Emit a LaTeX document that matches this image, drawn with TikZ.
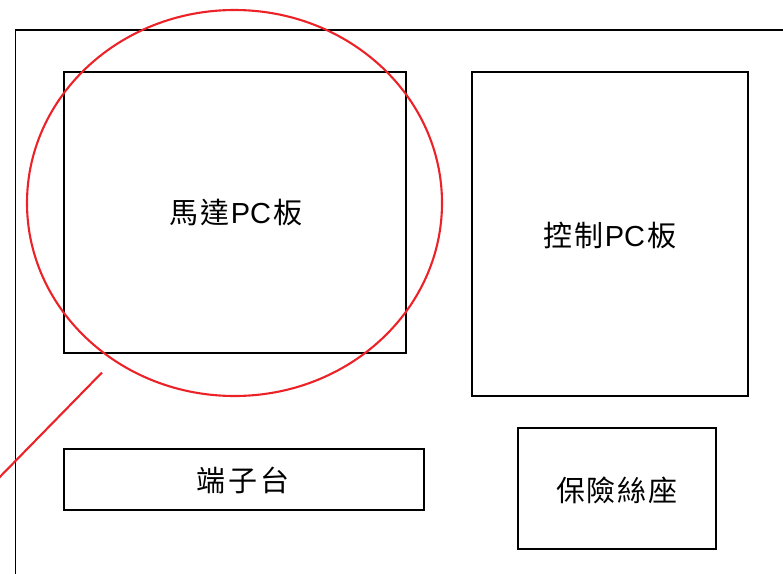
\documentclass[tikz,border=0pt]{standalone}
\usepackage{fontspec}
\setmainfont{Liberation Sans}
\newfontfamily\cjk{Noto Sans CJK TC}
\begin{document}
\begin{tikzpicture}[x=1pt,y=-1pt,
  box/.style={draw=black,line width=1.6pt,inner sep=0pt},
  lbl/.style={font=\fontsize{29}{34}\selectfont},
  redl/.style={draw={rgb,255:red,235;green,35;blue,40},line width=2.1pt}]
\useasboundingbox (0,0) rectangle (783,573);
\begin{scope}
\clip (0,0) rectangle (783,573);
\draw[line width=1.6pt] (15.5,600) -- (15.5,30) -- (800,30);
\node[box,minimum width=342pt,minimum height=281pt] (motor) at (235,212.5) {};
\node[box,minimum width=276pt,minimum height=324pt] (ctrl) at (610,234) {};
\node[box,minimum width=360pt,minimum height=61pt] (term) at (244,479.5) {};
\node[box,minimum width=198pt,minimum height=121pt] (fuse) at (617,488.5) {};
\node[lbl] (tm) at (236,212) {\cjk 馬\hspace{2pt}達\hspace{1pt}\rmfamily PC\hspace{2pt}\cjk 板};
\node[lbl] (tc) at (610,235) {\cjk 控\hspace{2pt}制\hspace{1pt}\rmfamily PC\hspace{2pt}\cjk 板};
\node[lbl] (tt) at (243,480) {\cjk 端\hspace{3pt}子\hspace{3pt}台};
\node[lbl] (tf) at (617,490) {\cjk 保\hspace{2pt}險\hspace{2pt}絲\hspace{2pt}座};
\draw[redl] (234.5,203) ellipse [x radius=207.5, y radius=193];
\coordinate (ls) at (102,372.5);
\coordinate (le) at (-10,487);
\draw[redl] (ls) -- (le);
\end{scope}
\end{tikzpicture}
\end{document}
